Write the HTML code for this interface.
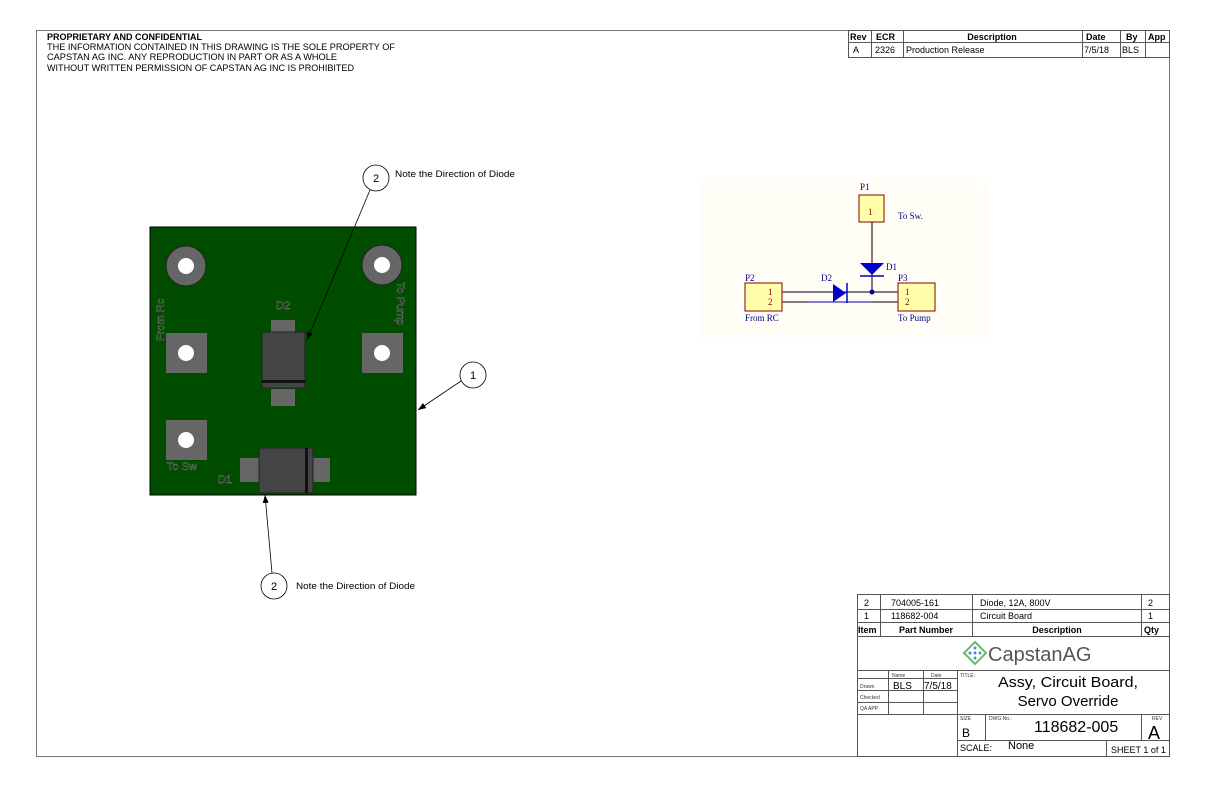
<!DOCTYPE html>
<html><head><meta charset="utf-8"><style>
html,body{margin:0;padding:0;background:#fff;}
svg{display:block;font-family:"Liberation Sans",sans-serif;}
</style></head><body>
<svg width="1224" height="792" viewBox="0 0 1224 792" xmlns="http://www.w3.org/2000/svg">
<defs><marker id="ah" markerWidth="8" markerHeight="6" refX="8" refY="3" orient="auto" markerUnits="userSpaceOnUse"><polygon points="0,0 8,3 0,6" fill="#000"/></marker></defs>
<rect x="36.5" y="30.5" width="1133" height="726" fill="none" stroke="#777" stroke-width="1"/>
<g font-size="9" fill="#000">
<text x="47" y="40" font-weight="bold">PROPRIETARY AND CONFIDENTIAL</text>
<text x="47" y="50" textLength="348" lengthAdjust="spacingAndGlyphs">THE INFORMATION CONTAINED IN THIS DRAWING IS THE SOLE PROPERTY OF</text>
<text x="47" y="60" textLength="290" lengthAdjust="spacingAndGlyphs">CAPSTAN AG INC. ANY REPRODUCTION IN PART OR AS A WHOLE</text>
<text x="47" y="71" textLength="307" lengthAdjust="spacingAndGlyphs">WITHOUT WRITTEN PERMISSION OF CAPSTAN AG INC IS PROHIBITED</text>
</g>
<g stroke="#555" stroke-width="1" fill="none">
<rect x="848.5" y="30.5" width="321" height="27"/>
<line x1="848" y1="42.5" x2="1170" y2="42.5"/>
<line x1="871.5" y1="30" x2="871.5" y2="57"/><line x1="903.5" y1="30" x2="903.5" y2="57"/>
<line x1="1082.5" y1="30" x2="1082.5" y2="57"/><line x1="1120.5" y1="30" x2="1120.5" y2="57"/>
<line x1="1145.5" y1="30" x2="1145.5" y2="57"/>
</g>
<g font-size="9" fill="#000">
<text x="850" y="40" font-weight="bold">Rev</text><text x="876" y="40" font-weight="bold">ECR</text>
<text x="992" y="40" font-weight="bold" text-anchor="middle">Description</text>
<text x="1086" y="40" font-weight="bold">Date</text><text x="1126" y="40" font-weight="bold">By</text><text x="1148" y="40" font-weight="bold">App</text>
<text x="853" y="53">A</text><text x="875" y="53">2326</text><text x="906" y="53">Production Release</text>
<text x="1084" y="53">7/5/18</text><text x="1122" y="53">BLS</text>
</g>
<rect x="150" y="227" width="266" height="268" fill="#004d00" stroke="#000"/>
<circle cx="186" cy="266" r="20" fill="#666" stroke="#222"/><circle cx="186" cy="266" r="8" fill="#fff"/>
<circle cx="382" cy="265" r="20" fill="#666" stroke="#222"/><circle cx="382" cy="265" r="8" fill="#fff"/>
<rect x="166" y="333" width="41" height="40" fill="#666"/><circle cx="186" cy="353" r="8" fill="#fff"/>
<rect x="362" y="333" width="41" height="40" fill="#666"/><circle cx="382" cy="353" r="8" fill="#fff"/>
<rect x="166" y="420" width="41" height="40" fill="#666"/><circle cx="186" cy="440" r="8" fill="#fff"/>
<rect x="271" y="320" width="24" height="12" fill="#666"/><rect x="271" y="389" width="24" height="17" fill="#666"/>
<rect x="262" y="332" width="43" height="56" fill="#444" stroke="#222"/><rect x="262" y="380" width="43" height="3" fill="#111"/>
<rect x="240" y="458" width="20" height="24" fill="#666"/><rect x="313" y="458" width="17" height="24" fill="#666"/>
<rect x="259" y="448" width="54" height="45" fill="#444" stroke="#222"/><rect x="305" y="448" width="3" height="45" fill="#111"/>
<g font-size="11" fill="#111" stroke="#888" stroke-width="0.4">
<text x="276" y="309">D2</text><text x="218" y="483">D1</text><text x="167" y="470">To Sw</text>
<text transform="translate(164,341) rotate(-90)">From Rc</text>
<text transform="translate(397,282) rotate(90)">To Pump</text>
</g>
<g stroke="#000" stroke-width="0.8" fill="none">
<circle cx="376" cy="178" r="13"/><line x1="370" y1="190" x2="307" y2="340" marker-end="url(#ah)"/>
<circle cx="473" cy="375" r="13"/><line x1="461" y1="381" x2="418" y2="410" marker-end="url(#ah)"/>
<circle cx="274" cy="586" r="13"/><line x1="272" y1="573" x2="265" y2="495" marker-end="url(#ah)"/>
</g>
<g font-size="11" fill="#000" text-anchor="middle">
<text x="376" y="182">2</text><text x="473" y="379">1</text><text x="274" y="590">2</text>
</g>
<g font-size="9" fill="#000"><text x="395" y="177" textLength="120" lengthAdjust="spacingAndGlyphs">Note the Direction of Diode</text><text x="296" y="589" textLength="119" lengthAdjust="spacingAndGlyphs">Note the Direction of Diode</text></g>
<rect x="700" y="179" width="288" height="159" fill="#fffdf5"/>
<g stroke="#000" stroke-width="1">
<line x1="872" y1="222" x2="872" y2="292"/>
<line x1="782" y1="292" x2="898" y2="292"/>
<line x1="782" y1="302" x2="898" y2="302"/>
</g>
<line x1="808" y1="302" x2="872" y2="302" stroke="#00a" stroke-width="1"/>
<polygon points="860,263 884,263 872,275" fill="#00c"/><line x1="860" y1="276" x2="884" y2="276" stroke="#00c" stroke-width="1.5"/>
<polygon points="833,284 833,302 846,293" fill="#00c"/><line x1="847" y1="283" x2="847" y2="303" stroke="#00c" stroke-width="1.5"/>
<circle cx="872" cy="292" r="2.5" fill="#00a"/>
<rect x="859" y="195" width="25" height="27" fill="#ffffaa" stroke="#800" stroke-width="1"/>
<rect x="745" y="283" width="37" height="28" fill="#ffffaa" stroke="#800" stroke-width="1"/>
<rect x="898" y="283" width="37" height="28" fill="#ffffaa" stroke="#800" stroke-width="1"/>
<g font-family="Liberation Serif,serif" font-size="9">
<g fill="#000080"><text x="860" y="190">P1</text><text x="745" y="281">P2</text><text x="898" y="281">P3</text>
<text x="821" y="281">D2</text><text x="886" y="270">D1</text>
<text x="898" y="219">To Sw.</text><text x="745" y="321">From RC</text><text x="898" y="321">To Pump</text></g>
<g fill="#800"><text x="868" y="215">1</text><text x="768" y="295">1</text><text x="768" y="305">2</text><text x="905" y="295">1</text><text x="905" y="305">2</text></g>
</g>
<g stroke="#555" stroke-width="1" fill="none">
<rect x="857.5" y="594.5" width="312" height="162"/>
<line x1="857" y1="609.5" x2="1170" y2="609.5"/><line x1="857" y1="622.5" x2="1170" y2="622.5"/>
<line x1="857" y1="636.5" x2="1170" y2="636.5"/><line x1="857" y1="670.5" x2="1170" y2="670.5"/>
<line x1="880.5" y1="594" x2="880.5" y2="636"/><line x1="972.5" y1="594" x2="972.5" y2="636"/>
<line x1="1141.5" y1="594" x2="1141.5" y2="636"/>
<line x1="857" y1="678.5" x2="957" y2="678.5"/><line x1="857" y1="690.5" x2="957" y2="690.5"/>
<line x1="857" y1="702.5" x2="957" y2="702.5"/><line x1="857" y1="714.5" x2="1170" y2="714.5"/>
<line x1="888.5" y1="670" x2="888.5" y2="714"/><line x1="923.5" y1="670" x2="923.5" y2="714"/>
<line x1="957.5" y1="670" x2="957.5" y2="756"/>
<line x1="985.5" y1="714" x2="985.5" y2="740"/><line x1="1141.5" y1="714" x2="1141.5" y2="740"/>
<line x1="957" y1="740.5" x2="1170" y2="740.5"/><line x1="1106.5" y1="740" x2="1106.5" y2="756"/>
</g>
<g font-size="9" fill="#000">
<text x="864" y="606">2</text><text x="891" y="606">704005-161</text><text x="980" y="606">Diode, 12A, 800V</text><text x="1148" y="606">2</text>
<text x="864" y="619">1</text><text x="891" y="619">118682-004</text><text x="980" y="619">Circuit Board</text><text x="1148" y="619">1</text>
<text x="858" y="633" font-weight="bold">Item</text><text x="926" y="633" font-weight="bold" text-anchor="middle">Part Number</text>
<text x="1057" y="633" font-weight="bold" text-anchor="middle">Description</text><text x="1144" y="633" font-weight="bold">Qty</text>
</g>
<g transform="translate(975,653)"><polygon points="0,-11 11,0 0,11 -11,0" fill="none" stroke="#6b6" stroke-width="2"/>
<g fill="#58c"><circle cx="0" cy="-5" r="1.5"/><circle cx="-5" cy="0" r="1.5"/><circle cx="5" cy="0" r="1.5"/><circle cx="0" cy="5" r="1.5"/><circle cx="0" cy="0" r="1.5"/></g></g>
<text x="988" y="661" font-size="20" fill="#555">CapstanAG</text>
<g font-size="5" fill="#333"><text x="892" y="677">Name</text><text x="931" y="677">Date</text><text x="960" y="677">TITLE:</text>
<text x="860" y="688">Drawn</text><text x="860" y="699">Checked</text><text x="860" y="710">QA APP</text>
<text x="960" y="720">SIZE</text><text x="989" y="720">DWG No.:</text><text x="1152" y="720">REV</text></g>
<g fill="#000">
<text x="893" y="689" font-size="10">BLS</text><text x="924" y="689" font-size="10">7/5/18</text>
<text x="998" y="687" font-size="15" textLength="140" lengthAdjust="spacingAndGlyphs">Assy, Circuit Board,</text>
<text x="1068" y="706" font-size="15" text-anchor="middle">Servo Override</text>
<text x="962" y="737" font-size="12">B</text><text x="1034" y="732" font-size="16">118682-005</text>
<text x="1148" y="739" font-size="18">A</text>
<text x="960" y="751" font-size="9">SCALE:</text><text x="1008" y="749" font-size="11">None</text>
<text x="1111" y="753" font-size="9">SHEET 1 of 1</text>
</g>
</svg>
</body></html>
